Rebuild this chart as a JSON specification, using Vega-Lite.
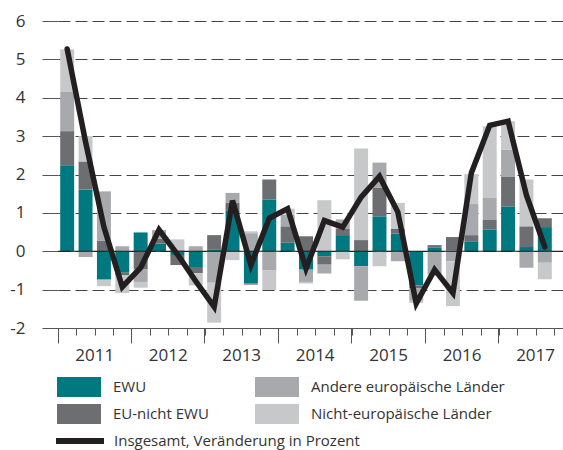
{
  "$schema": "https://vega.github.io/schema/vega-lite/v6.json",
  "width": 505,
  "height": 307,
  "autosize": {"type": "none"},
  "padding": {"left": 58, "top": 21, "right": 0, "bottom": 122},
  "background": "white",
  "config": {"view": {"stroke": null}, "font": "Open Sans"},
  "datasets": {
    "bars": [
      {"q": "2011-1", "s": "EWU", "o": 1, "v": 2.24}, {"q": "2011-1", "s": "EU-nicht EWU", "o": 2, "v": 0.89}, {"q": "2011-1", "s": "Andere europäische Länder", "o": 3, "v": 1.02}, {"q": "2011-1", "s": "Nicht-europäische Länder", "o": 4, "v": 1.11},
      {"q": "2011-2", "s": "EWU", "o": 1, "v": 1.61}, {"q": "2011-2", "s": "EU-nicht EWU", "o": 2, "v": 0.73}, {"q": "2011-2", "s": "Andere europäische Länder", "o": 3, "v": -0.15}, {"q": "2011-2", "s": "Nicht-europäische Länder", "o": 4, "v": 0.66},
      {"q": "2011-3", "s": "EWU", "o": 1, "v": -0.74}, {"q": "2011-3", "s": "EU-nicht EWU", "o": 2, "v": 0.27}, {"q": "2011-3", "s": "Andere europäische Länder", "o": 3, "v": 1.29}, {"q": "2011-3", "s": "Nicht-europäische Länder", "o": 4, "v": -0.17},
      {"q": "2011-4", "s": "EWU", "o": 1, "v": -0.56}, {"q": "2011-4", "s": "EU-nicht EWU", "o": 2, "v": -0.07}, {"q": "2011-4", "s": "Andere europäische Länder", "o": 3, "v": 0.13}, {"q": "2011-4", "s": "Nicht-europäische Länder", "o": 4, "v": -0.46},
      {"q": "2012-1", "s": "EWU", "o": 1, "v": 0.49}, {"q": "2012-1", "s": "EU-nicht EWU", "o": 2, "v": -0.47}, {"q": "2012-1", "s": "Andere europäische Länder", "o": 3, "v": -0.33}, {"q": "2012-1", "s": "Nicht-europäische Länder", "o": 4, "v": -0.15},
      {"q": "2012-2", "s": "EWU", "o": 1, "v": 0.2}, {"q": "2012-2", "s": "EU-nicht EWU", "o": 2, "v": 0.13}, {"q": "2012-2", "s": "Andere europäische Länder", "o": 3, "v": 0.22}, {"q": "2012-2", "s": "Nicht-europäische Länder", "o": 4, "v": 0.0},
      {"q": "2012-3", "s": "EWU", "o": 1, "v": -0.12}, {"q": "2012-3", "s": "EU-nicht EWU", "o": 2, "v": -0.24}, {"q": "2012-3", "s": "Andere europäische Länder", "o": 3, "v": 0.05}, {"q": "2012-3", "s": "Nicht-europäische Länder", "o": 4, "v": 0.26},
      {"q": "2012-4", "s": "EWU", "o": 1, "v": -0.41}, {"q": "2012-4", "s": "EU-nicht EWU", "o": 2, "v": -0.16}, {"q": "2012-4", "s": "Andere europäische Länder", "o": 3, "v": 0.13}, {"q": "2012-4", "s": "Nicht-europäische Länder", "o": 4, "v": -0.32},
      {"q": "2013-1", "s": "EWU", "o": 1, "v": 0.05}, {"q": "2013-1", "s": "EU-nicht EWU", "o": 2, "v": 0.37}, {"q": "2013-1", "s": "Andere europäische Länder", "o": 3, "v": -0.82}, {"q": "2013-1", "s": "Nicht-europäische Länder", "o": 4, "v": -1.04},
      {"q": "2013-2", "s": "EWU", "o": 1, "v": 1.05}, {"q": "2013-2", "s": "EU-nicht EWU", "o": 2, "v": 0.22}, {"q": "2013-2", "s": "Andere europäische Länder", "o": 3, "v": 0.25}, {"q": "2013-2", "s": "Nicht-europäische Länder", "o": 4, "v": -0.23},
      {"q": "2013-3", "s": "EWU", "o": 1, "v": -0.84}, {"q": "2013-3", "s": "EU-nicht EWU", "o": 2, "v": -0.03}, {"q": "2013-3", "s": "Andere europäische Länder", "o": 3, "v": 0.47}, {"q": "2013-3", "s": "Nicht-europäische Länder", "o": 4, "v": 0.05},
      {"q": "2013-4", "s": "EWU", "o": 1, "v": 1.35}, {"q": "2013-4", "s": "EU-nicht EWU", "o": 2, "v": 0.52}, {"q": "2013-4", "s": "Andere europäische Länder", "o": 3, "v": -0.49}, {"q": "2013-4", "s": "Nicht-europäische Länder", "o": 4, "v": -0.52},
      {"q": "2014-1", "s": "EWU", "o": 1, "v": 0.22}, {"q": "2014-1", "s": "EU-nicht EWU", "o": 2, "v": 0.43}, {"q": "2014-1", "s": "Andere europäische Länder", "o": 3, "v": 0.3}, {"q": "2014-1", "s": "Nicht-europäische Länder", "o": 4, "v": 0.16},
      {"q": "2014-2", "s": "EWU", "o": 1, "v": -0.48}, {"q": "2014-2", "s": "EU-nicht EWU", "o": 2, "v": 0.39}, {"q": "2014-2", "s": "Andere europäische Länder", "o": 3, "v": -0.32}, {"q": "2014-2", "s": "Nicht-europäische Länder", "o": 4, "v": -0.04},
      {"q": "2014-3", "s": "EWU", "o": 1, "v": -0.13}, {"q": "2014-3", "s": "EU-nicht EWU", "o": 2, "v": -0.22}, {"q": "2014-3", "s": "Andere europäische Länder", "o": 3, "v": -0.23}, {"q": "2014-3", "s": "Nicht-europäische Länder", "o": 4, "v": 1.33},
      {"q": "2014-4", "s": "EWU", "o": 1, "v": 0.42}, {"q": "2014-4", "s": "EU-nicht EWU", "o": 2, "v": 0.16}, {"q": "2014-4", "s": "Andere europäische Länder", "o": 3, "v": 0.25}, {"q": "2014-4", "s": "Nicht-europäische Länder", "o": 4, "v": -0.21},
      {"q": "2015-1", "s": "EWU", "o": 1, "v": -0.39}, {"q": "2015-1", "s": "EU-nicht EWU", "o": 2, "v": 0.29}, {"q": "2015-1", "s": "Andere europäische Länder", "o": 3, "v": -0.9}, {"q": "2015-1", "s": "Nicht-europäische Länder", "o": 4, "v": 2.39},
      {"q": "2015-2", "s": "EWU", "o": 1, "v": 0.91}, {"q": "2015-2", "s": "EU-nicht EWU", "o": 2, "v": 0.74}, {"q": "2015-2", "s": "Andere europäische Länder", "o": 3, "v": 0.66}, {"q": "2015-2", "s": "Nicht-europäische Länder", "o": 4, "v": -0.39},
      {"q": "2015-3", "s": "EWU", "o": 1, "v": 0.46}, {"q": "2015-3", "s": "EU-nicht EWU", "o": 2, "v": 0.13}, {"q": "2015-3", "s": "Andere europäische Länder", "o": 3, "v": -0.26}, {"q": "2015-3", "s": "Nicht-europäische Länder", "o": 4, "v": 0.67},
      {"q": "2015-4", "s": "EWU", "o": 1, "v": -0.89}, {"q": "2015-4", "s": "EU-nicht EWU", "o": 2, "v": -0.07}, {"q": "2015-4", "s": "Andere europäische Länder", "o": 3, "v": -0.33}, {"q": "2015-4", "s": "Nicht-europäische Länder", "o": 4, "v": -0.06},
      {"q": "2016-1", "s": "EWU", "o": 1, "v": 0.09}, {"q": "2016-1", "s": "EU-nicht EWU", "o": 2, "v": 0.07}, {"q": "2016-1", "s": "Andere europäische Länder", "o": 3, "v": -0.6}, {"q": "2016-1", "s": "Nicht-europäische Länder", "o": 4, "v": -0.05},
      {"q": "2016-2", "s": "EWU", "o": 1, "v": 0.02}, {"q": "2016-2", "s": "EU-nicht EWU", "o": 2, "v": 0.35}, {"q": "2016-2", "s": "Andere europäische Länder", "o": 3, "v": -0.26}, {"q": "2016-2", "s": "Nicht-europäische Länder", "o": 4, "v": -1.17},
      {"q": "2016-3", "s": "EWU", "o": 1, "v": 0.26}, {"q": "2016-3", "s": "EU-nicht EWU", "o": 2, "v": 0.16}, {"q": "2016-3", "s": "Andere europäische Länder", "o": 3, "v": 0.81}, {"q": "2016-3", "s": "Nicht-europäische Länder", "o": 4, "v": 0.78},
      {"q": "2016-4", "s": "EWU", "o": 1, "v": 0.57}, {"q": "2016-4", "s": "EU-nicht EWU", "o": 2, "v": 0.26}, {"q": "2016-4", "s": "Andere europäische Länder", "o": 3, "v": 0.56}, {"q": "2016-4", "s": "Nicht-europäische Länder", "o": 4, "v": 1.87},
      {"q": "2017-1", "s": "EWU", "o": 1, "v": 1.17}, {"q": "2017-1", "s": "EU-nicht EWU", "o": 2, "v": 0.78}, {"q": "2017-1", "s": "Andere europäische Länder", "o": 3, "v": 0.7}, {"q": "2017-1", "s": "Nicht-europäische Länder", "o": 4, "v": 0.74},
      {"q": "2017-2", "s": "EWU", "o": 1, "v": 0.11}, {"q": "2017-2", "s": "EU-nicht EWU", "o": 2, "v": 0.54}, {"q": "2017-2", "s": "Andere europäische Länder", "o": 3, "v": -0.43}, {"q": "2017-2", "s": "Nicht-europäische Länder", "o": 4, "v": 1.22},
      {"q": "2017-3", "s": "EWU", "o": 1, "v": 0.63}, {"q": "2017-3", "s": "EU-nicht EWU", "o": 2, "v": 0.23}, {"q": "2017-3", "s": "Andere europäische Länder", "o": 3, "v": -0.3}, {"q": "2017-3", "s": "Nicht-europäische Länder", "o": 4, "v": -0.43}
    ],
    "line": [
      {"q": "2011-1", "t": 5.27}, {"q": "2011-2", "t": 2.85}, {"q": "2011-3", "t": 0.63}, {"q": "2011-4", "t": -0.93},
      {"q": "2012-1", "t": -0.43}, {"q": "2012-2", "t": 0.56}, {"q": "2012-3", "t": -0.08}, {"q": "2012-4", "t": -0.78},
      {"q": "2013-1", "t": -1.45}, {"q": "2013-2", "t": 1.32}, {"q": "2013-3", "t": -0.36}, {"q": "2013-4", "t": 0.86},
      {"q": "2014-1", "t": 1.11}, {"q": "2014-2", "t": -0.45}, {"q": "2014-3", "t": 0.8}, {"q": "2014-4", "t": 0.63},
      {"q": "2015-1", "t": 1.41}, {"q": "2015-2", "t": 1.95}, {"q": "2015-3", "t": 1.02}, {"q": "2015-4", "t": -1.36},
      {"q": "2016-1", "t": -0.48}, {"q": "2016-2", "t": -1.09}, {"q": "2016-3", "t": 2.04}, {"q": "2016-4", "t": 3.28},
      {"q": "2017-1", "t": 3.39}, {"q": "2017-2", "t": 1.46}, {"q": "2017-3", "t": 0.11}
    ]
  },
  "layer": [
    {
      "data": {"name": "bars"},
      "mark": {"type": "bar", "width": {"band": 0.76}},
      "encoding": {
        "x": {
          "field": "q", "type": "ordinal", "sort": null,
          "scale": {"paddingInner": 0, "paddingOuter": 0.245, "align": 0},
          "axis": {"orient": "bottom", "title": null, "labels": false, "tickBand": "extent", "tickSize": 7, "tickColor": "#555", "domainColor": "#555", "grid": false, "domain": true, "ticks": true}
        },
        "y": {
          "field": "v", "type": "quantitative", "stack": "zero",
          "scale": {"domain": [-2, 6], "nice": false, "zero": false},
          "axis": {"title": null, "values": [-2, -1, 0, 1, 2, 3, 4, 5, 6], "labelExpr": "'' + datum.value", "labelOverlap": false, "grid": true, "gridDash": [12, 5], "gridColor": "#444", "tickSize": 16, "tickColor": "#555", "domain": false, "labelFontSize": 17, "labelPadding": 17, "labelColor": "#333", "labelFont": "Open Sans"}
        },
        "color": {
          "field": "s", "type": "nominal",
          "scale": {"domain": ["EWU", "EU-nicht EWU", "Andere europäische Länder", "Nicht-europäische Länder"], "range": ["#00787f", "#6d6e71", "#a7a9ac", "#c7c8ca"]},
          "legend": {"title": null, "orient": "none", "legendX": 11, "legendY": 356, "columns": 2, "symbolType": "M-2.2,-1H2.2V1H-2.2Z", "symbolSize": 400, "symbolStrokeWidth": 0, "labelOffset": 24, "columnPadding": 46, "rowPadding": 7, "labelFontSize": 15, "labelFont": "Open Sans", "labelColor": "#333", "padding": 0, "symbolOpacity": 1, "labelLimit": 400}
        },
        "order": {"field": "o", "type": "quantitative"}
      }
    },
    {
      "data": {"values": [{"z": 0}]},
      "mark": {"type": "rule", "color": "#1a1a1a", "strokeWidth": 1},
      "encoding": {
        "y": {"field": "z", "type": "quantitative",
          "axis": {"title": null, "values": [-2, -1, 0, 1, 2, 3, 4, 5, 6], "labelExpr": "'' + datum.value", "labelOverlap": false, "grid": true, "gridDash": [12, 5], "gridColor": "#444", "tickSize": 16, "tickColor": "#555", "domain": false, "labelFontSize": 17, "labelPadding": 17, "labelColor": "#333", "labelFont": "Open Sans"}}
      }
    },
    {
      "data": {"name": "line"},
      "mark": {"type": "line", "strokeWidth": 5.5, "strokeCap": "round", "strokeJoin": "miter"},
      "encoding": {
        "x": {
          "field": "q", "type": "ordinal", "sort": null,
          "axis": {"orient": "bottom", "title": null, "values": ["2011-1", "2012-1", "2013-1", "2014-1", "2015-1", "2016-1", "2017-1"], "bandPosition": 0, "tickSize": 15, "tickColor": "#555", "domain": false, "grid": false, "labelExpr": "substring(datum.value, 0, 4)", "labelOffset": 27.5, "labelAngle": 0, "labelFontSize": 17, "labelColor": "#333", "labelFont": "Open Sans", "labelPadding": 4, "labelOverlap": false}
        },
        "y": {"field": "t", "type": "quantitative",
          "axis": {"title": null, "values": [-2, -1, 0, 1, 2, 3, 4, 5, 6], "labelExpr": "'' + datum.value", "labelOverlap": false, "grid": true, "gridDash": [12, 5], "gridColor": "#444", "tickSize": 16, "tickColor": "#555", "domain": false, "labelFontSize": 17, "labelPadding": 17, "labelColor": "#333", "labelFont": "Open Sans"}},
        "stroke": {
          "datum": "Insgesamt, Veränderung in Prozent",
          "scale": {"range": ["#231f20"]},
          "legend": {"title": null, "orient": "none", "legendX": 9, "legendY": 407, "symbolType": "M-2.4,0H2.4", "symbolSize": 400, "symbolStrokeWidth": 6, "labelOffset": 21, "labelFontSize": 15, "labelFont": "Open Sans", "labelColor": "#333", "padding": 0, "labelLimit": 400}
        }
      }
    }
  ],
  "resolve": {"axis": {"x": "independent"}}
}
